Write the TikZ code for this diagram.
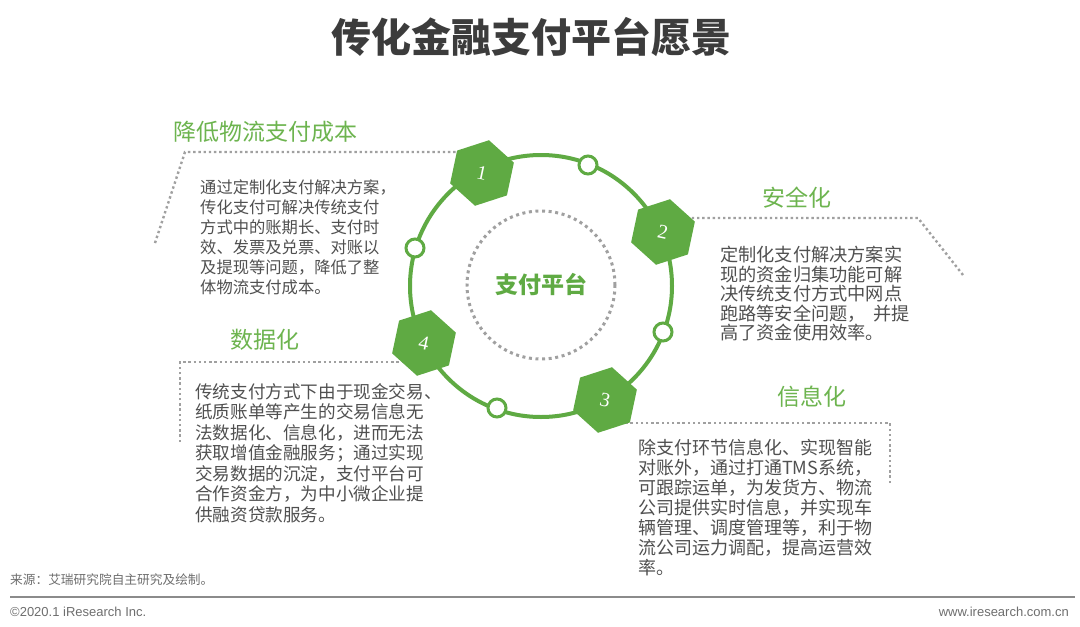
\documentclass[tikz,border=0pt]{standalone}
\usepackage{fontspec}
\setmainfont{Noto Sans CJK SC}
\newfontfamily\numfont{Liberation Serif}
\newfontfamily\latinsans{Liberation Sans}
\usetikzlibrary{shapes.geometric}
\definecolor{grn}{HTML}{5FAA43}
\definecolor{hgrn}{HTML}{6DB44F}
\definecolor{bodygray}{HTML}{505050}
\definecolor{dotgray}{HTML}{A0A0A0}
\definecolor{titlegray}{HTML}{3C3C3C}
\definecolor{footgray}{HTML}{6E6E6E}
\tikzset{
  hexnode/.style={regular polygon, regular polygon sides=6, minimum size=67pt, inner sep=0pt,
    fill=grn, shape border rotate=30, rotate=-12, text=white, font=\numfont\fontsize{20}{20}\selectfont},
  smallring/.style={circle, draw=grn, line width=3pt, fill=white, minimum size=18pt, inner sep=0pt},
  dotline/.style={draw=dotgray, line width=2.4pt, dash pattern=on 2.4pt off 2.8pt},
  headtxt/.style={text=hgrn, font=\fontsize{23}{23}\selectfont, inner sep=0pt},
  bodytxt/.style={text=bodygray, align=left, anchor=north west, inner sep=0pt, font=\fontsize{18}{20}\selectfont},
  foottxt/.style={text=footgray, inner sep=0pt},
}
\begin{document}
\begin{tikzpicture}[x=1pt,y=-1pt]
\useasboundingbox (0,0) rectangle (1080,627);
\fill[white] (0,0) rectangle (1080,627);

% title
\node[text=titlegray, font=\bfseries\fontsize{40}{40}\selectfont, inner sep=0pt] (title) at (531,37) {传化金融支付平台愿景};

% ring and centre
\node[circle, draw=grn, line width=4pt, minimum size=262pt, inner sep=0pt] (ring) at (541,286) {};
\node[circle, draw=dotgray, line width=3pt, dash pattern=on 3pt off 3.6pt, minimum size=148pt, inner sep=0pt,
      text=grn, font=\bfseries\fontsize{23}{23}\selectfont] (hub) at (541,285) {支付平台};

% small rings on the circle
\node[smallring] (r1) at (588,165) {};
\node[smallring] (r2) at (415,248) {};
\node[smallring] (r3) at (663,332) {};
\node[smallring] (r4) at (497,408) {};

% frame anchors
\coordinate (a1) at (155,243);
\coordinate (b1) at (185,152);
\coordinate (a2) at (963,275);
\coordinate (b2) at (918,218);
\coordinate (a3) at (890,483);
\coordinate (b3) at (890,423);
\coordinate (a4) at (180,442);
\coordinate (b4) at (180,362);
\coordinate (h1c) at (482,173);
\coordinate (h2c) at (663,232);
\coordinate (h3c) at (605,400);
\coordinate (h4c) at (424,343);

% dotted frames
\draw[dotline] (a1) -- (b1) -- (b1 -| h1c);
\draw[dotline] (a2) -- (b2) -- (b2 -| h2c);
\draw[dotline] (a3) -- (b3) -- (b3 -| h3c);
\draw[dotline] (a4) -- (b4) -- (b4 -| h4c);

% hexagons
\node[hexnode] (h1) at (h1c) {1};
\node[hexnode] (h2) at (h2c) {2};
\node[hexnode] (h3) at (h3c) {3};
\node[hexnode] (h4) at (h4c) {4};

% headings
\node[headtxt] (t1) at (265,132) {降低物流支付成本};
\node[headtxt] (t2) at (797,198) {安全化};
\node[headtxt] (t4) at (265,340) {数据化};
\node[headtxt] (t3) at (812,397) {信息化};

% body texts
\node[bodytxt, font=\fontsize{16.3}{20}\selectfont] (p1) at (200,179) {通过定制化支付解决方案，\\传化支付可解决传统支付\\方式中的账期长、支付时\\效、发票及兑票、对账以\\及提现等问题，降低了整\\体物流支付成本。};
\node[bodytxt, font=\fontsize{18.2}{19.5}\selectfont] (p2) at (720,246) {定制化支付解决方案实\\现的资金归集功能可解\\决传统支付方式中网点\\跑路等安全问题，\hspace{0.4em}并提\\高了资金使用效率。};
\node[bodytxt, font=\fontsize{17.6}{20.5}\selectfont] (p4) at (195,383) {传统支付方式下由于现金交易、\\纸质账单等产生的交易信息无\\法数据化、信息化，进而无法\\获取增值金融服务；通过实现\\交易数据的沉淀，支付平台可\\合作资金方，为中小微企业提\\供融资贷款服务。};
\node[bodytxt, font=\fontsize{18}{20}\selectfont] (p3) at (638,439) {除支付环节信息化、实现智能\\对账外，通过打通TMS系统，\\可跟踪运单，为发货方、物流\\公司提供实时信息，并实现车\\辆管理、调度管理等，利于物\\流公司运力调配，提高运营效\\率。};

% footer
\node[foottxt, anchor=west, font=\fontsize{12.7}{13}\selectfont] (src) at (10,580) {来源：艾瑞研究院自主研究及绘制。};
\draw[draw=footgray!80, line width=2pt] (10,597) -- (1075,597);
\node[foottxt, anchor=west, font=\latinsans\fontsize{13}{13}\selectfont] (copy) at (10,612) {©2020.1 iResearch Inc.};
\node[foottxt, anchor=east, font=\latinsans\fontsize{13}{13}\selectfont] (web) at (1069,612) {www.iresearch.com.cn};
\end{tikzpicture}
\end{document}
